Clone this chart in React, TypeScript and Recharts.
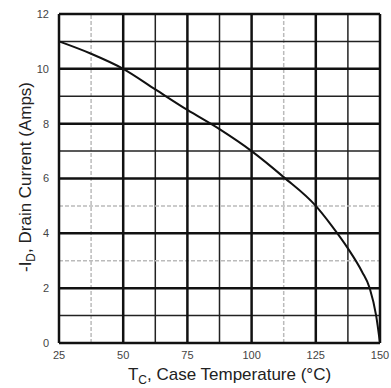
import {
  LineChart,
  Line,
  XAxis,
  YAxis,
  ReferenceLine,
} from "recharts";

// case temperature (°C) vs max drain current (A)
const temps = [25, 37.5, 50, 62.5, 75, 87.5, 100, 112.5, 125, 131, 137.5, 143, 146, 148.5, 150];
const current = [11, 10.55, 10, 9.25, 8.5, 7.8, 7, 6.05, 5, 4.3, 3.45, 2.6, 2.0, 1.0, 0];

const xTicks = [25, 50, 75, 100, 125, 150];
const yTicks = [0, 2, 4, 6, 8, 10, 12];
const xMinor = [37.5, 62.5, 87.5, 112.5, 137.5];
const yMinor = [1, 3, 5, 7, 9, 11];
const faintX = [37.5, 112.5];
const faintY = [3, 5];

const data = temps.map((t, i) => ({ t, id: current[i] }));

const font = "Liberation Sans, Arial, sans-serif";
const tickStyle = { fontSize: 11, fill: "#444", fontFamily: font };

function YTitle(props: any) {
  const vb = props.viewBox || { x: 0, y: 0, width: 0, height: 0 };
  const cx = vb.x + 31;
  const cy = 177;
  return (
    <text
      x={cx}
      y={cy}
      transform={`rotate(-90 ${cx} ${cy})`}
      textAnchor="middle"
      fontSize={17}
      fill="#222"
      fontFamily={font}
    >
      -I<tspan fontSize={12} dy={4}>D</tspan>
      <tspan dy={-4}>, Drain Current (Amps)</tspan>
    </text>
  );
}

function XTitle(props: any) {
  const vb = props.viewBox || { x: 0, y: 0, width: 0, height: 0 };
  const cx = vb.x + vb.width / 2 + 10;
  const cy = vb.y + 37;
  return (
    <text
      x={cx}
      y={cy}
      textAnchor="middle"
      fontSize={17}
      fill="#222"
      fontFamily={font}
    >
      T<tspan fontSize={12} dy={4}>C</tspan>
      <tspan dy={-4}>, Case Temperature (°C)</tspan>
    </text>
  );
}

export default function App() {
  return (
    <div style={{ position: "absolute", left: 0, top: 0, width: 391, height: 388, background: "#fff" }}>
      <LineChart
        width={391}
        height={388}
        data={data}
        margin={{ top: 14, right: 11, left: 0, bottom: 0 }}
      >
        <XAxis
          type="number"
          dataKey="t"
          domain={[25, 150]}
          ticks={xTicks}
          tick={tickStyle}
          tickLine={false}
          axisLine={{ stroke: "#111", strokeWidth: 2.5 }}
          height={45}
          tickMargin={2}
          label={<XTitle />}
        />
        <YAxis
          type="number"
          domain={[0, 12]}
          ticks={yTicks}
          tick={tickStyle}
          tickLine={false}
          axisLine={{ stroke: "#111", strokeWidth: 2.5 }}
          width={59}
          tickMargin={4}
          label={<YTitle />}
        />
        {xMinor.map((v) => (
          <ReferenceLine
            key={"xm" + v}
            x={v}
            stroke={faintX.includes(v) ? "#bbb" : "#222"}
            strokeWidth={1.5}
            strokeDasharray={faintX.includes(v) ? "4 2" : undefined}
          />
        ))}
        {yMinor.map((v) => (
          <ReferenceLine
            key={"ym" + v}
            y={v}
            stroke={faintY.includes(v) ? "#bbb" : "#222"}
            strokeWidth={1.5}
            strokeDasharray={faintY.includes(v) ? "4 2" : undefined}
          />
        ))}
        {xTicks.slice(1).map((v) => (
          <ReferenceLine key={"x" + v} x={v} stroke="#111" strokeWidth={2.5} />
        ))}
        {yTicks.slice(1).map((v) => (
          <ReferenceLine key={"y" + v} y={v} stroke="#111" strokeWidth={2.5} />
        ))}
        <Line
          type="monotone"
          dataKey="id"
          stroke="#111"
          strokeWidth={2}
          dot={false}
          isAnimationActive={false}
        />
      </LineChart>
    </div>
  );
}
